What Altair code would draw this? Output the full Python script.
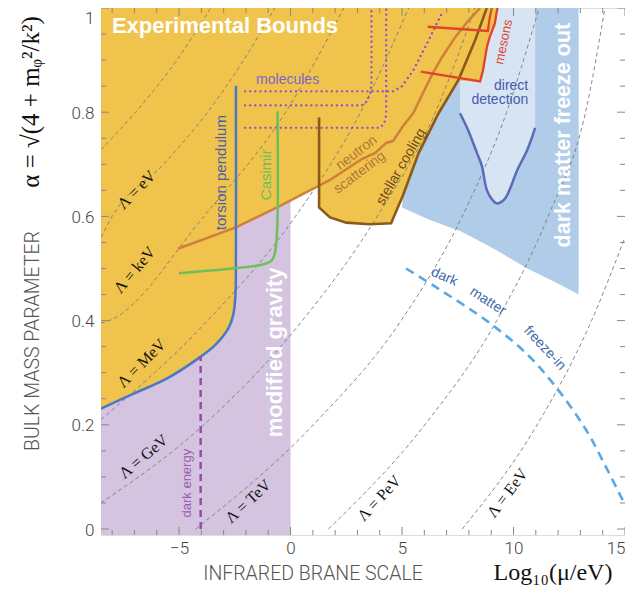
import altair as alt
import pandas as pd

# ---------------- data ----------------
X_DOMAIN = [-8.5, 15]
Y_DOMAIN = [-0.0115, 1.0]

x_major = [-5, 0, 5, 10, 15]
x_minor = [-8, -7, -6, -4, -3, -2, -1, 1, 2, 3, 4, 6, 7, 8, 9, 11, 12, 13, 14]
y_major = [0, 0.2, 0.4, 0.6, 0.8, 1.0]
y_minor = [0.05, 0.1, 0.15, 0.25, 0.3, 0.35, 0.45, 0.5, 0.55, 0.65, 0.7, 0.75, 0.85, 0.9, 0.95]

# dashed Lambda = const curves: (alpha values, log10 mu values)
lam_lines = {
    "meV": ([0.728, 0.8, 0.9, 1.0], [-8.5, -6.95, -5.1, -3.58]),
    "eV": ([0.56, 0.6, 0.7, 0.8, 0.9, 1.0], [-8.5, -8.0, -5.7, -3.72, -2.1, -0.71]),
    "keV": ([0.395, 0.4, 0.6, 0.8, 1.0], [-8.5, -8.14, -3.89, -0.22, 2.39]),
    "MeV": ([0.21, 0.4, 0.6, 0.8, 1.0], [-8.5, -3.72, 0.22, 3.14, 5.3]),
    "GeV": ([0.05, 0.2, 0.4, 0.6, 0.8, 1.0], [-8.5, -3.89, 0.53, 3.89, 6.5, 8.27]),
    "TeV": ([0.0, 0.2, 0.4, 0.6, 0.8, 1.0], [-4.25, 1.02, 4.96, 7.7, 9.69, 11.15]),
    "PeV": ([0.0, 0.2, 0.4, 0.6, 0.8, 1.0], [1.7, 6.02, 9.25, 11.55, 13.23, 14.1]),
    "EeV": ([0.0, 0.2, 0.4, 0.56], [7.7, 11.06, 13.5, 15.0]),
}
lam_labels = {
    "eV": (-6.9, 0.651, -45), "keV": (-6.99, 0.497, -50), "MeV": (-6.68, 0.318, -45),
    "GeV": (-6.59, 0.139, -40), "TeV": (-1.9, 0.053, -43), "PeV": (3.98, 0.059, -47),
    "EeV": (9.73, 0.069, -53),
}

# experimental bounds region (yellow)
yellow_x = [-8.5, -8.5, -7.08, -5.58, -4.12, -3.36, -2.79, -2.57, -2.47, -2.45, -2.45,
            -0.58, 1.28, 1.28, 1.77, 2.5, 3.54, 4.51, 5.04, 5.75, 6.64, 7.52,
            8.5, 8.63, 8.81, 8.94, 9.16, 9.25, 9.29]
yellow_y = [1.0, 0.23, 0.259, 0.288, 0.328, 0.354, 0.385, 0.411, 0.45, 0.5, 0.579,
            0.618, 0.659, 0.617, 0.598, 0.588, 0.585, 0.587, 0.64, 0.722, 0.798, 0.861,
            0.859, 0.88, 0.926, 0.945, 0.97, 0.994, 1.0]

# modified gravity band
mg_x = [-8.5, 0.0]
mg_y = [-0.0115, 0.7]

# dark matter freeze out region
fo_x = [5.0, 5.04, 5.75, 6.64, 7.52, 8.27, 8.8, 12.92, 12.92, 12.1, 10.62, 9.16, 7.7, 6.2, 5.0]
fo_y = [0.617, 0.64, 0.722, 0.798, 0.861, 0.937, 1.0, 1.0, 0.45, 0.469, 0.5, 0.537, 0.57, 0.594, 0.617]

# direct detection
dd_x = [7.6, 7.6, 7.96, 8.36, 8.58, 8.8, 9.03, 9.25, 9.6, 10.18, 10.62, 10.97, 10.97]
dd_y = [1.0, 0.798, 0.766, 0.722, 0.697, 0.651, 0.633, 0.625, 0.633, 0.69, 0.728, 0.77, 1.0]

# bound curves
torsion_x = [-8.5, -7.08, -5.58, -4.12, -3.36, -2.79, -2.57, -2.47, -2.45, -2.45]
torsion_y = [0.231, 0.259, 0.288, 0.328, 0.354, 0.385, 0.411, 0.45, 0.5, 0.851]
casimir_x = [-5.0, -2.65, -1.33, -0.85, -0.7, -0.62, -0.58, -0.58]
casimir_y = [0.491, 0.5, 0.507, 0.515, 0.53, 0.56, 0.6, 0.802]
neutron_x = [-5.05, -2.45, -0.58, 1.28, 1.77, 3.19, 3.8, 4.29, 4.6, 5.04, 5.5, 5.93, 6.37, 6.8, 7.4, 7.96, 8.5]
neutron_y = [0.538, 0.579, 0.618, 0.659, 0.67, 0.71, 0.722, 0.741, 0.745, 0.773, 0.798, 0.836, 0.874, 0.906, 0.945, 0.975, 1.0]
stellar_x = [1.28, 1.28, 1.77, 2.5, 3.54, 4.51, 5.04, 5.75, 6.64, 7.52, 8.27, 8.8]
stellar_y = [0.79, 0.617, 0.598, 0.588, 0.585, 0.587, 0.64, 0.722, 0.798, 0.861, 0.937, 1.0]
meson1_x = [6.15, 8.85, 8.94, 9.03]
meson1_y = [0.964, 0.956, 0.983, 1.0]
meson2_x = [5.84, 8.5, 8.63, 8.81, 8.94, 9.16, 9.25, 9.29]
meson2_y = [0.878, 0.859, 0.88, 0.926, 0.945, 0.97, 0.994, 1.0]
darkenergy_x = [-4.03, -4.03]
darkenergy_y = [0.0, 0.331]
ddcurve_x = [7.6, 7.96, 8.36, 8.58, 8.8, 9.03, 9.25, 9.6, 10.18, 10.62, 10.97]
ddcurve_y = [0.798, 0.766, 0.722, 0.697, 0.651, 0.633, 0.625, 0.633, 0.69, 0.728, 0.77]
freezein_x = [5.18, 6.64, 8.85, 10.62, 11.95, 13.27, 14.16, 14.9, 15.0]
freezein_y = [0.5, 0.461, 0.398, 0.335, 0.27, 0.189, 0.118, 0.055, 0.047]

# molecules (dotted)
molecules = {
    "h3": ([-2.04, 4.0, 4.2, 4.29, 4.29], [0.77, 0.77, 0.778, 0.795, 1.0]),
    "h2": ([-2.04, 3.2, 3.45, 3.6, 3.63, 3.63], [0.813, 0.813, 0.822, 0.84, 0.86, 1.0]),
    "h1": ([-2.04, 4.6, 5.0, 5.5, 6.1, 6.5, 6.85], [0.84, 0.84, 0.85, 0.88, 0.93, 0.965, 0.995]),
}

# ---------------- chart ----------------
W, H = 524, 527
SANS = "Liberation Sans"
LIGHT = "Roboto"
SERIF = "Liberation Serif"
xs = alt.Scale(domain=X_DOMAIN, nice=False, zero=False)
ys = alt.Scale(domain=Y_DOMAIN, nice=False, zero=False)
xax = alt.Axis(values=x_major, ticks=False, domain=False, grid=False, labelFontSize=17,
               labelColor="#444", labelFont=LIGHT, labelFontWeight=300, labelPadding=5,
               title=None, labelFlush=True)
yax = alt.Axis(values=y_major, ticks=False, domain=False, grid=False, labelFontSize=17,
               labelColor="#444", labelFont=LIGHT, labelFontWeight=300, labelPadding=7, title=None,
               labelBaseline={"condition": {"test": "datum.value == 1", "value": "top"}, "value": "middle"},
               labelOffset={"condition": {"test": "datum.value == 1", "value": 2}, "value": 1},
               labelExpr="datum.value == 0 ? '0' : datum.value == 1 ? '1' : format(datum.value, '.1f')")


def X(f="x"):
    return alt.X(f + ":Q", scale=xs, axis=xax)


def Y(f="y"):
    return alt.Y(f + ":Q", scale=ys, axis=yax)


def poly(xv, yv, color):
    df = pd.DataFrame({"x": xv, "y": yv, "i": list(range(len(xv)))})
    return alt.Chart(df).mark_line(fill=color, strokeOpacity=0, strokeWidth=0, clip=True).encode(
        x=X(), y=Y(), order="i:Q")


def curve(xv, yv, color, width=2.5, dash=None, interp="linear", cap="butt"):
    df = pd.DataFrame({"x": xv, "y": yv, "i": list(range(len(xv)))})
    kw = dict(color=color, strokeWidth=width, clip=True, interpolate=interp, strokeCap=cap)
    if dash is not None:
        kw["strokeDash"] = dash
    return alt.Chart(df).mark_line(**kw).encode(x=X(), y=Y(), order="i:Q")


def label(text, x, y, color, size, angle=0, bold=False, font=SANS, align="center"):
    df = pd.DataFrame({"x": [x], "y": [y], "t": [text]})
    kw = dict(color=color, fontSize=size, angle=angle % 360, font=font, align=align, baseline="middle")
    if bold:
        kw["fontWeight"] = "bold"
    return alt.Chart(df).mark_text(**kw).encode(x=X(), y=Y(), text="t:N")


def ptext(text, px, py, color, size, angle=0, font=SANS, align="center", weight=400, baseline="middle"):
    df = pd.DataFrame({"t": [text]})
    return alt.Chart(df).mark_text(color=color, fontSize=size, angle=angle % 360, font=font,
                                   align=align, baseline=baseline, fontWeight=weight).encode(
        x=alt.value(px), y=alt.value(py), text="t:N")


layers = []
mg_df = pd.DataFrame({"x": [mg_x[0]], "x2": [mg_x[1]], "y": [mg_y[0]], "y2": [mg_y[1]]})
layers.append(alt.Chart(mg_df).mark_rect(color="#d4c4e0", clip=True).encode(
    x=X(), x2="x2:Q", y=Y(), y2="y2:Q"))
layers.append(poly(fo_x, fo_y, "#b1cce9"))
layers.append(poly(dd_x, dd_y, "#d6e4f4"))
layers.append(poly(yellow_x, yellow_y, "#f0c44c"))

# Lambda lines
rows = []
for name, (al, lx) in lam_lines.items():
    for i, (a, v) in enumerate(zip(al, lx)):
        rows.append({"name": name, "x": v, "y": a, "i": i})
lam_df = pd.DataFrame(rows)
layers.append(alt.Chart(lam_df).mark_line(color="#7a7a7a", strokeWidth=0.9, strokeDash=[4, 3],
                                          clip=True, interpolate="monotone").encode(
    x=X(), y=Y(), detail="name:N", order="i:Q"))

# molecules
rows = []
for name, (mx, my) in molecules.items():
    for i, (a, b) in enumerate(zip(mx, my)):
        rows.append({"name": name, "x": a, "y": b, "i": i})
mol_df = pd.DataFrame(rows)
layers.append(alt.Chart(mol_df).mark_line(color="#8a4fcf", strokeWidth=2.3, strokeDash=[0.1, 5],
                                          strokeCap="round", clip=True).encode(
    x=X(), y=Y(), detail="name:N", order="i:Q"))

layers.append(curve(neutron_x, neutron_y, "#cf7f3c", 2.5))
layers.append(curve(stellar_x, stellar_y, "#8a5a1c", 2.6))
layers.append(curve(torsion_x, torsion_y, "#4a78c6", 2.5, interp="catmull-rom"))
layers.append(curve(casimir_x, casimir_y, "#6cc05a", 2.5, interp="catmull-rom"))
layers.append(curve(meson1_x, meson1_y, "#e4432a", 2.3))
layers.append(curve(meson2_x, meson2_y, "#e4432a", 2.3))
layers.append(curve(darkenergy_x, darkenergy_y, "#9a4aa6", 2.5, dash=[7, 5]))
layers.append(curve(ddcurve_x, ddcurve_y, "#5b6bb8", 2.5, interp="catmull-rom"))
layers.append(curve(freezein_x, freezein_y, "#5aa8e2", 2.6, dash=[9, 6], interp="catmull-rom"))

# region / curve labels
layers.append(label("Experimental Bounds", -8.01, 0.966, "white", 22, bold=True, align="left"))
layers.append(label("molecules", -0.13, 0.861, "#7f63c9", 14))
layers.append(label("torsion pendulum", -3.14, 0.684, "#4b5fa5", 15, angle=-90))
layers.append(label("Casimir", -1.1, 0.68, "#6dbf5b", 15, angle=-90))
layers.append(label("neutron", 2.96, 0.722, "#b0743c", 14, angle=-37))
layers.append(label("scattering", 3.1, 0.684, "#b0743c", 14, angle=-37))
layers.append(label("stellar cooling", 4.96, 0.695, "#6e4a1e", 14, angle=-60))
layers.append(label("mesons", 9.56, 0.935, "#e0442a", 13, angle=-78))
layers.append(label("direct", 10.66, 0.851, "#4a5aae", 14, align="right"))
layers.append(label("detection", 10.66, 0.823, "#4a5aae", 14, align="right"))
layers.append(label("dark matter freeze out", 12.26, 0.756, "white", 21.5, angle=-90, bold=True))
layers.append(label("modified gravity", -0.71, 0.339, "white", 22, angle=-90, bold=True))
layers.append(label("dark energy", -4.65, 0.088, "#9d5aae", 13, angle=-90))
layers.append(label("dark", 6.9, 0.484, "#4468b0", 14, angle=24))
layers.append(label("matter", 8.85, 0.437, "#4468b0", 14, angle=33))
layers.append(label("freeze-in", 11.4, 0.347, "#4468b0", 14, angle=47))
for name, (lx, ly, ang) in lam_labels.items():
    layers.append(label("Λ = " + name, lx, ly, "#111", 16, angle=ang, font=SERIF))


# inward frame ticks
def xticks(vals, length):
    df = pd.DataFrame({"x": vals})
    b = alt.Chart(df).mark_rule(color="#888", strokeWidth=1).encode(
        x=X(), y=alt.value(H), y2=alt.value(H - length))
    t = alt.Chart(df).mark_rule(color="#888", strokeWidth=1).encode(
        x=X(), y=alt.value(0), y2=alt.value(length))
    return [b, t]


def yticks(vals, length):
    df = pd.DataFrame({"y": vals})
    l = alt.Chart(df).mark_rule(color="#888", strokeWidth=1).encode(
        y=Y(), x=alt.value(0), x2=alt.value(length))
    r = alt.Chart(df).mark_rule(color="#888", strokeWidth=1).encode(
        y=Y(), x=alt.value(W), x2=alt.value(W - length))
    return [l, r]


layers += xticks(x_major, 8) + xticks(x_minor, 5) + yticks(y_major, 8) + yticks(y_minor, 5)

# axis titles
layers.append(ptext("BULK MASS PARAMETER", -68, 333, "#555", 19.5, angle=-90, font=LIGHT, weight=300))
layers.append(ptext("α = √(4 + mᵩ²/k²)", -70, 94, "#111", 25, angle=-90, font=SERIF))
layers.append(ptext("INFRARED BRANE SCALE", 212, 566, "#555", 19.5, font=LIGHT, weight=300))
layers.append(ptext("Log₁₀(μ/eV)", 452, 572, "#111", 24, font=SERIF, baseline="alphabetic"))

chart = alt.layer(*layers).properties(
    width=W, height=H,
    autosize=alt.AutoSizeParams(type="none"),
    padding={"left": 93, "top": 0, "right": 0, "bottom": 51},
).configure_view(stroke="#8a8a8a", strokeWidth=1).configure(background="white")

chart.save("out.html", embed_options={"renderer": "svg", "actions": False})
